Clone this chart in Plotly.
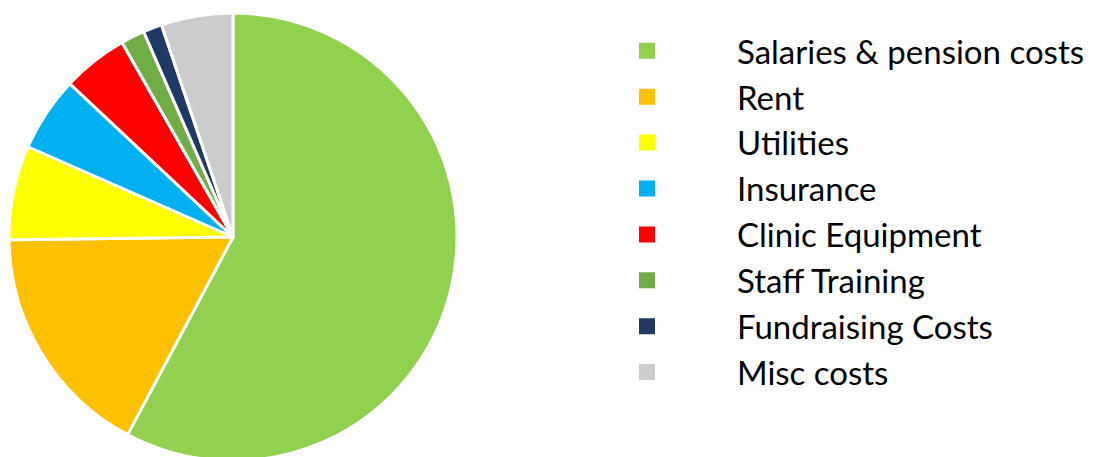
import plotly.graph_objects as go

categories = ["Salaries & pension costs", "Rent", "Utilities", "Insurance",
              "Clinic Equipment", "Staff Training", "Fundraising Costs", "Misc costs"]
values = [57.8, 17.0, 6.8, 5.4, 4.75, 1.72, 1.36, 5.17]
colors = ["#92D050", "#FFC000", "#FFFF00", "#00B0F0",
          "#FF0000", "#70AD47", "#203864", "#CCCCCC"]

W, H = 1114, 461

fig = go.Figure()
fig.add_trace(go.Pie(
    labels=categories,
    values=values,
    sort=False,
    direction="clockwise",
    rotation=0,
    textinfo="none",
    hoverinfo="label+percent",
    marker=dict(colors=colors, line=dict(color="white", width=3)),
    domain=dict(x=[9 / W, 457 / W], y=[0, 1]),
    showlegend=False,
))

# legend entries with larger square swatches
for cat, col in zip(categories, colors):
    fig.add_trace(go.Scatter(
        x=[None], y=[None], mode="markers", name=cat,
        marker=dict(symbol="square", size=17, color=col),
        hoverinfo="skip",
    ))

fig.update_xaxes(visible=False)
fig.update_yaxes(visible=False)

fig.update_layout(
    width=W, height=H,
    margin=dict(l=0, r=0, t=13, b=0, autoexpand=False),
    paper_bgcolor="white",
    plot_bgcolor="white",
    legend=dict(
        x=0.5, xanchor="left",
        y=0.978, yanchor="top",
        font=dict(family="Lato, 'Open Sans', sans-serif", size=33, color="black"),
        itemwidth=170,
        bgcolor="rgba(0,0,0,0)",
    ),
)

fig.write_html("out.html", config={"displayModeBar": False},
               post_script="document.body.style.margin='0';document.body.style.overflow='hidden';")
